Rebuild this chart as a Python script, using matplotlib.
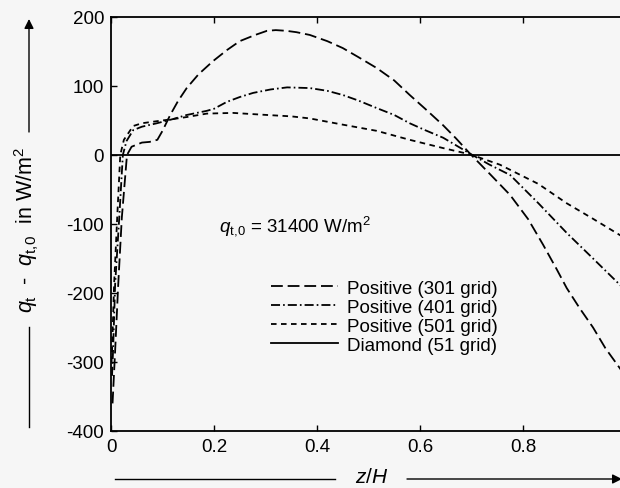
import matplotlib
matplotlib.use('Agg')
import matplotlib.pyplot as plt

z_301 = [0.003, 0.008, 0.014, 0.021, 0.031, 0.04, 0.06, 0.075, 0.09, 0.10, 0.115,
         0.13, 0.147, 0.17, 0.198, 0.225, 0.25, 0.28, 0.303, 0.32, 0.34, 0.36,
         0.386, 0.42, 0.45, 0.48, 0.516, 0.55, 0.58, 0.61, 0.645, 0.67, 0.697,
         0.735, 0.775, 0.81, 0.839, 0.865, 0.885, 0.91, 0.936, 0.96, 0.988, 1.0]
q_301 = [-360, -284, -188, -91, 0, 12, 18, 19, 22, 35, 58,
         78, 97, 117, 136, 152, 165, 174, 180, 181, 180, 178,
         174, 165, 155, 142, 126, 108, 87, 67, 43, 24, 2,
         -27, -58, -93, -130, -165, -193, -222, -250, -280, -309, -322]

z_401 = [0.002, 0.004, 0.008, 0.016, 0.023, 0.03, 0.043, 0.06, 0.089, 0.12, 0.147,
         0.186, 0.2, 0.225, 0.25, 0.276, 0.31, 0.342, 0.386, 0.42, 0.45, 0.48,
         0.516, 0.55, 0.58, 0.61, 0.645, 0.67, 0.697, 0.735, 0.775, 0.83, 0.885,
         0.936, 0.988, 1.0]
q_401 = [-320, -284, -188, -91, 0, 20, 36, 41, 46, 52, 58,
         64, 67, 77, 84, 90, 95, 98, 97, 93, 87, 79,
         68, 58, 46, 36, 25, 14, 2, -14, -29, -70, -113,
         -150, -188, -197]

z_501 = [0.001, 0.002, 0.006, 0.012, 0.018, 0.025, 0.043, 0.06, 0.089, 0.12, 0.147,
         0.186, 0.237, 0.303, 0.35, 0.386, 0.45, 0.516, 0.58, 0.645, 0.697,
         0.755, 0.83, 0.885, 0.935, 0.988, 1.0]
q_501 = [-300, -284, -188, -91, 0, 22, 42, 46, 49, 52, 55,
         60, 61, 58, 56, 53, 44, 35, 22, 10, 1,
         -14, -42, -70, -92, -116, -121]

z_dia = [0.0, 1.0]
q_dia = [0, 0]

labels = ['Positive (301 grid)', 'Positive (401 grid)',
          'Positive (501 grid)', 'Diamond (51 grid)']

plt.rcParams['font.family'] = ['Liberation Sans', 'DejaVu Sans']
plt.rcParams['mathtext.fontset'] = 'custom'
plt.rcParams['mathtext.rm'] = 'Liberation Sans'
plt.rcParams['mathtext.it'] = 'Liberation Sans:italic'
plt.rcParams['axes.unicode_minus'] = False
plt.rcParams['lines.scale_dashes'] = False

bg = '#f6f6f6'
fig = plt.figure(figsize=(6.2, 4.89), dpi=100, facecolor=bg)
ax = fig.add_axes([111 / 620, 1 - 432 / 489, 515 / 620, 414 / 489])
ax.set_facecolor(bg)

lw = 1.3
ax.plot(z_301, q_301, color='black', lw=lw, ls=(0, (8.5, 3.5)), label=labels[0])
ax.plot(z_401, q_401, color='black', lw=lw, ls=(0, (6.5, 2.2, 1.2, 2.2)), label=labels[1])
ax.plot(z_501, q_501, color='black', lw=lw, ls=(0, (4.0, 3.2)), label=labels[2])
ax.plot(z_dia, q_dia, color='black', lw=lw, ls='-', label=labels[3])

ax.set_xlim(0, 1)
ax.set_ylim(-400, 200)
ax.set_xticks([0, 0.2, 0.4, 0.6, 0.8, 1.0])
ax.set_xticklabels(['0', '0.2', '0.4', '0.6', '0.8', ''])
ax.set_yticks(range(-400, 201, 100))
ax.tick_params(direction='in', length=4, width=1, top=True, right=True,
               labelsize=13.5, pad=5)
for s in ax.spines.values():
    s.set_linewidth(1.3)

ax.text(0.21, -109, r'$q_{\mathrm{t},\!\mathrm{0}}$ = 31400 W/m$^2$', fontsize=13.5)

ax.legend(loc='upper left', bbox_to_anchor=(0.31, 0.365), frameon=False,
          fontsize=13.5, handlelength=3.6, handletextpad=0.45,
          labelspacing=0.1, borderpad=0, borderaxespad=0)

# axis labels with arrows, as in the original figure
fig.text(27 / 620, 1 - 230 / 489,
         r'$q_{\mathrm{t}}$  -  $q_{\mathrm{t},\!\mathrm{0}}$  in W/m$^2$',
         rotation=90, ha='center', va='center', fontsize=15.5)
fig.add_artist(plt.Line2D([29 / 620, 29 / 620], [1 - 428 / 489, 1 - 328 / 489],
                          color='black', lw=1))
ax.annotate('', xy=(29 / 620, 1 - 20 / 489), xytext=(29 / 620, 1 - 133 / 489),
            xycoords='figure fraction', textcoords='figure fraction',
            arrowprops=dict(arrowstyle='-|>', color='black', lw=1,
                            mutation_scale=14, shrinkA=0, shrinkB=0))

fig.text(372 / 620, 1 - 478 / 489, r'$z/H$', ha='center', va='center', fontsize=15)
fig.add_artist(plt.Line2D([115 / 620, 335 / 620], [1 - 480 / 489, 1 - 480 / 489],
                          color='black', lw=1))
ax.annotate('', xy=(622 / 620, 1 - 480 / 489), xytext=(407 / 620, 1 - 480 / 489),
            xycoords='figure fraction', textcoords='figure fraction',
            arrowprops=dict(arrowstyle='-|>', color='black', lw=1,
                            mutation_scale=14, shrinkA=0, shrinkB=0))

fig.savefig('out.png', dpi=100, facecolor=bg)
